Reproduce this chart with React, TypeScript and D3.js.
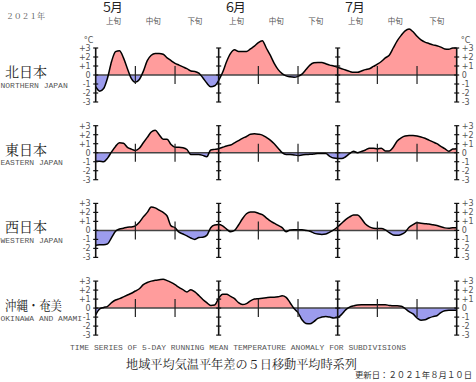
import React from "react";
import * as d3 from "d3";

const regionsJa = ["北日本", "東日本", "西日本", "沖縄・奄美"];
const regionsEn = ["NORTHERN JAPAN", "EASTERN JAPAN", "WESTERN JAPAN", "OKINAWA AND AMAMI"];
const monthLabels = ["５月", "６月", "７月"];
const dekadLabels = ["上旬", "中旬", "下旬"];
const yTicks = [3, 2, 1, 0, -1, -2, -3];

// daily 5-day running mean anomaly, May 1 .. Jul 31 2021
const north = [
  -1.3, -1.8, -1.5, -0.3, 1.5, 2.6, 2.7, 1.9, 0.7, -0.4,
  -0.8, -0.5, 0.4, 1.6, 2.2, 2.4, 2.4, 2.3, 1.9, 1.6,
  1.3, 1.1, 0.9, 0.7, 0.45, 0.4, 0.2, -0.3, -0.9, -1.3,
  -1.2, -0.6, 0.3, 1.5, 2.4, 2.8, 2.6, 2.6, 2.6, 2.9,
  3.2, 3.6, 3.8, 3.0, 2.2, 1.3, 0.6, 0.15, -0.1, -0.2,
  -0.25, -0.15, 0.1, 0.6, 1.1, 1.35, 1.4, 1.4, 1.25, 1.1,
  1.0, 0.85, 0.7, 0.55, 0.4, 0.3, 0.3, 0.45, 0.6, 0.7,
  0.95, 1.2, 1.5, 1.9, 2.2, 3.0, 3.8, 4.4, 4.9, 5.1,
  4.8, 4.3, 3.9, 3.65, 3.5, 3.35, 3.25, 3.1, 2.9, 2.85,
  3.0, 3.0,
];
const east = [
  -0.95, -0.95, -1.0, -0.6, 0.1, 0.7, 1.1, 1.05, 0.6, 0.4,
  0.25, 0.5, 1.1, 1.7, 2.3, 2.5, 2.0, 1.5, 1.5, 0.9,
  0.6, 0.6, 0.55, 0.35, -0.2, -0.2, -0.2, -0.3, -0.45, 0.3,
  0.37, 0.45, 0.6, 0.75, 0.85, 1.1, 1.35, 1.6, 1.8, 2.05,
  2.1, 2.05, 1.95, 1.7, 1.4, 1.0, 0.5, 0.0, -0.2, -0.2,
  -0.25, -0.3, -0.25, -0.2, -0.18, -0.15, -0.1, -0.1, -0.1, -0.4,
  -0.6, -0.65, -0.65, -0.45, -0.1, 0.15, 0.0, 0.15, 0.3, 0.5,
  0.5, 0.45, 0.5, 0.2, 0.2, 0.6, 1.3, 1.65, 1.85, 1.9,
  1.9, 1.85, 1.75, 1.6, 1.4, 1.2, 1.0, 0.7, 0.45, 0.15,
  0.4, 0.45,
];
const west = [
  -1.65, -1.6, -1.6, -1.5, -0.8, -0.1, 0.15, 0.25, 0.35, 0.38,
  0.5, 0.9, 1.5, 2.0, 2.6, 2.5, 2.25, 2.0, 1.6, 0.5,
  0.3, -0.2, -0.4, -0.6, -0.85, -1.0, -0.8, -0.75, -0.55, 0.3,
  0.6, 0.65, 0.5, 0.15, -0.15, 0.0, 0.6, 1.3, 1.85, 2.05,
  2.05, 1.9, 1.75, 1.4, 1.05, 0.8, 0.55, 0.3, -0.15, 0.05,
  0.07, 0.07, 0.07, 0.0, -0.1, -0.3, -0.4, -0.45, -0.4, -0.2,
  0.05, 0.4, 0.8, 1.2, 1.5, 1.7, 1.72, 1.3, 0.7, 0.4,
  0.25, 0.2, 0.2, 0.05, -0.25, -0.5, -0.55, -0.45, -0.2, 0.35,
  0.65, 0.85, 0.8, 0.75, 0.7, 0.62, 0.55, 0.4, 0.28, 0.25,
  0.3, 0.3,
];
const okinawa = [
  -0.75, -0.1, 0.07, 0.2, 0.6, 0.9, 1.05, 1.25, 1.45, 1.65,
  1.9, 2.15, 2.6, 2.85, 3.0, 3.1, 3.15, 3.2, 3.05, 2.85,
  2.6, 2.3, 2.05, 1.8, 2.05, 1.8, 1.4, 0.95, 0.6, 0.3,
  0.35, 1.1, 1.55, 1.55, 1.3, 1.05, 0.6, 0.4, 0.5, 0.8,
  1.0, 1.05, 1.1, 1.15, 1.2, 1.2, 1.25, 1.37, 1.2, 0.6,
  -0.05, -0.5, -1.3, -1.7, -1.75, -1.5, -1.15, -1.0, -0.93, -1.0,
  -1.1, -1.05, -0.7, -0.2, 0.1, 0.25, 0.35, 0.37, 0.37, 0.37,
  0.37, 0.37, 0.37, 0.37, 0.3, 0.25, 0.25, 0.2, -0.05, -0.4,
  -0.65, -1.1, -1.35, -1.3, -1.1, -0.95, -0.85, -0.5, -0.3, -0.25,
  -0.25, -0.25,
];
const series = [north, east, west, okinawa];

const W = 476;
const H = 382;
const startDate = new Date(2021, 4, 1);
const endDate = new Date(2021, 6, 31);
const days = d3.timeDay.range(startDate, new Date(2021, 7, 1));
const monthStarts = [new Date(2021, 4, 1), new Date(2021, 5, 1), new Date(2021, 6, 1)];
const axisDates = [new Date(2021, 4, 1), new Date(2021, 5, 1), new Date(2021, 6, 1), endDate];

const x = d3.scaleTime().domain([startDate, endDate]).range([95.7, 456.7]);
const zero0 = 75;
const panelStep = 77.7;
const unit = 9;

const POS = "#ff9c9c";
const NEG = "#9c9ced";
const GRAY = "#555";
const MONO = "'Liberation Mono', 'DejaVu Sans Mono', monospace";
const JP = "'Noto Serif CJK JP', 'Noto Sans CJK JP', serif";
const HEAD = "'DejaVu Serif', 'Noto Sans CJK JP', serif";
const SMALLJP = "'DejaVu Sans', 'Noto Sans CJK JP', sans-serif";
const SANS = "'DejaVu Sans', 'Liberation Sans', sans-serif";

function Panel({ data, idx }: { data: number[]; idx: number }) {
  const zy = zero0 + idx * panelStep;
  const y = d3.scaleLinear().domain([-3, 3]).range([zy + 3 * unit, zy - 3 * unit]);
  const pts = days.map((d, i) => ({ d, v: data[i] }));
  const area = d3
    .area<{ d: Date; v: number }>()
    .x((p) => x(p.d))
    .y0(y(0))
    .y1((p) => y(p.v))
    .curve(d3.curveMonotoneX);
  const line = d3
    .line<{ d: Date; v: number }>()
    .x((p) => x(p.d))
    .y((p) => y(p.v))
    .curve(d3.curveMonotoneX);
  const areaD = area(pts) || "";
  const lineD = line(pts) || "";
  const dekadTicks: Date[] = [];
  monthStarts.forEach((m) => {
    dekadTicks.push(new Date(m.getFullYear(), m.getMonth(), 11));
    dekadTicks.push(new Date(m.getFullYear(), m.getMonth(), 21));
  });
  const xl = x(startDate);
  const xr = x(endDate);
  return (
    <g>
      <defs>
        <clipPath id={`above${idx}`}>
          <rect x={0} y={zy - 80} width={W} height={80} />
        </clipPath>
        <clipPath id={`below${idx}`}>
          <rect x={0} y={zy} width={W} height={80} />
        </clipPath>
      </defs>
      <path d={areaD} fill={POS} clipPath={`url(#above${idx})`} />
      <path d={areaD} fill={NEG} clipPath={`url(#below${idx})`} />
      <line x1={xl} x2={xr} y1={y(0)} y2={y(0)} stroke="#444" strokeWidth={1.5} />
      <path d={lineD} fill="none" stroke="#000" strokeWidth={1.5} strokeLinejoin="round" />
      {dekadTicks.map((d, i) => (
        <line key={i} x1={x(d)} x2={x(d)} y1={y(1)} y2={y(-1)} stroke="#222" strokeWidth={1.2} />
      ))}
      {axisDates.map((d, i) => (
        <g key={i}>
          <line x1={x(d)} x2={x(d)} y1={y(3)} y2={y(-3)} stroke="#111" strokeWidth={1.6} />
          {yTicks.map((t) => (
            <line key={t} x1={x(d) - 2.5} x2={x(d) + 2.5} y1={y(t)} y2={y(t)} stroke="#111" strokeWidth={1.2} />
          ))}
        </g>
      ))}
      {yTicks.map((t) => {
        const lab = t > 0 ? `+${t}` : `${t}`;
        return (
          <g key={t}>
            <text x={xl - 5} y={y(t) + 3} textAnchor="end" fontSize={8} fill={GRAY} fontFamily={SANS}>
              {lab}
            </text>
            <text x={xr + 5} y={y(t) + 3} textAnchor="start" fontSize={8} fill={GRAY} fontFamily={SANS}>
              {lab}
            </text>
          </g>
        );
      })}
      {idx === 0 && (
        <>
          <text x={xl - 12} y={y(3) - 5} fontSize={8} fill={GRAY} fontFamily={SANS}>°C</text>
          <text x={xr + 4} y={y(3) - 5} fontSize={8} fill={GRAY} fontFamily={SANS}>°C</text>
        </>
      )}
      <text
        x={5}
        y={zy + 2}
        fontSize={idx === 3 ? 13 : 14}
        fill="#222"
        fontFamily={JP}
        textLength={idx === 3 ? 57 : 42}
        lengthAdjust="spacingAndGlyphs"
      >
        {regionsJa[idx]}
      </text>
      <text x={0.5} y={zy + 12.5} fontSize={8} fill={GRAY} fontFamily={MONO}>
        {regionsEn[idx]}
      </text>
    </g>
  );
}

export default function App() {
  const dekadCenters: { x: number; label: string }[] = [];
  monthStarts.forEach((m) => {
    const y0 = m.getFullYear();
    const mo = m.getMonth();
    const bounds = [
      new Date(y0, mo, 1),
      new Date(y0, mo, 11),
      new Date(y0, mo, 21),
      new Date(y0, mo + 1, 1),
    ];
    for (let k = 0; k < 3; k++) {
      const a = x(bounds[k]);
      const b = x(d3.timeDay.offset(bounds[k + 1], -1));
      dekadCenters.push({ x: (a + b) / 2, label: dekadLabels[k] });
    }
  });
  return (
    <div style={{ position: "absolute", left: 0, top: 0 }}>
      <svg width={W} height={H} style={{ display: "block", background: "#fff" }}>
        <text x={6} y={19} fontSize={8} fill={GRAY} fontFamily={JP} textLength={39} lengthAdjust="spacing">
          ２０２１年
        </text>
        {monthStarts.map((m, i) => (
          <text key={i} x={x(m) + 5} y={12} fontSize={12.5} fill="#222" fontFamily={HEAD} textLength={22} lengthAdjust="spacing">
            {monthLabels[i]}
          </text>
        ))}
        {dekadCenters.map((d, i) => (
          <text key={i} x={d.x} y={23.5} fontSize={7.5} fill={GRAY} textAnchor="middle" fontFamily={SMALLJP}>
            {d.label}
          </text>
        ))}
        {series.map((s, i) => (
          <Panel key={i} data={s} idx={i} />
        ))}
        <text x={W / 2} y={350} fontSize={8} fill={GRAY} textAnchor="middle" fontFamily={MONO}>
          TIME SERIES OF 5-DAY RUNNING MEAN TEMPERATURE ANOMALY FOR SUBDIVISIONS
        </text>
        <text x={126} y={369} fontSize={12} fill="#222" fontFamily={JP} textLength={231} lengthAdjust="spacingAndGlyphs">
          地域平均気温平年差の５日移動平均時系列
        </text>
        <text x={355} y={378} fontSize={8.5} fill="#333" fontFamily={HEAD} textLength={117} lengthAdjust="spacingAndGlyphs">
          更新日：２０２１年８月１０日
        </text>
      </svg>
    </div>
  );
}
